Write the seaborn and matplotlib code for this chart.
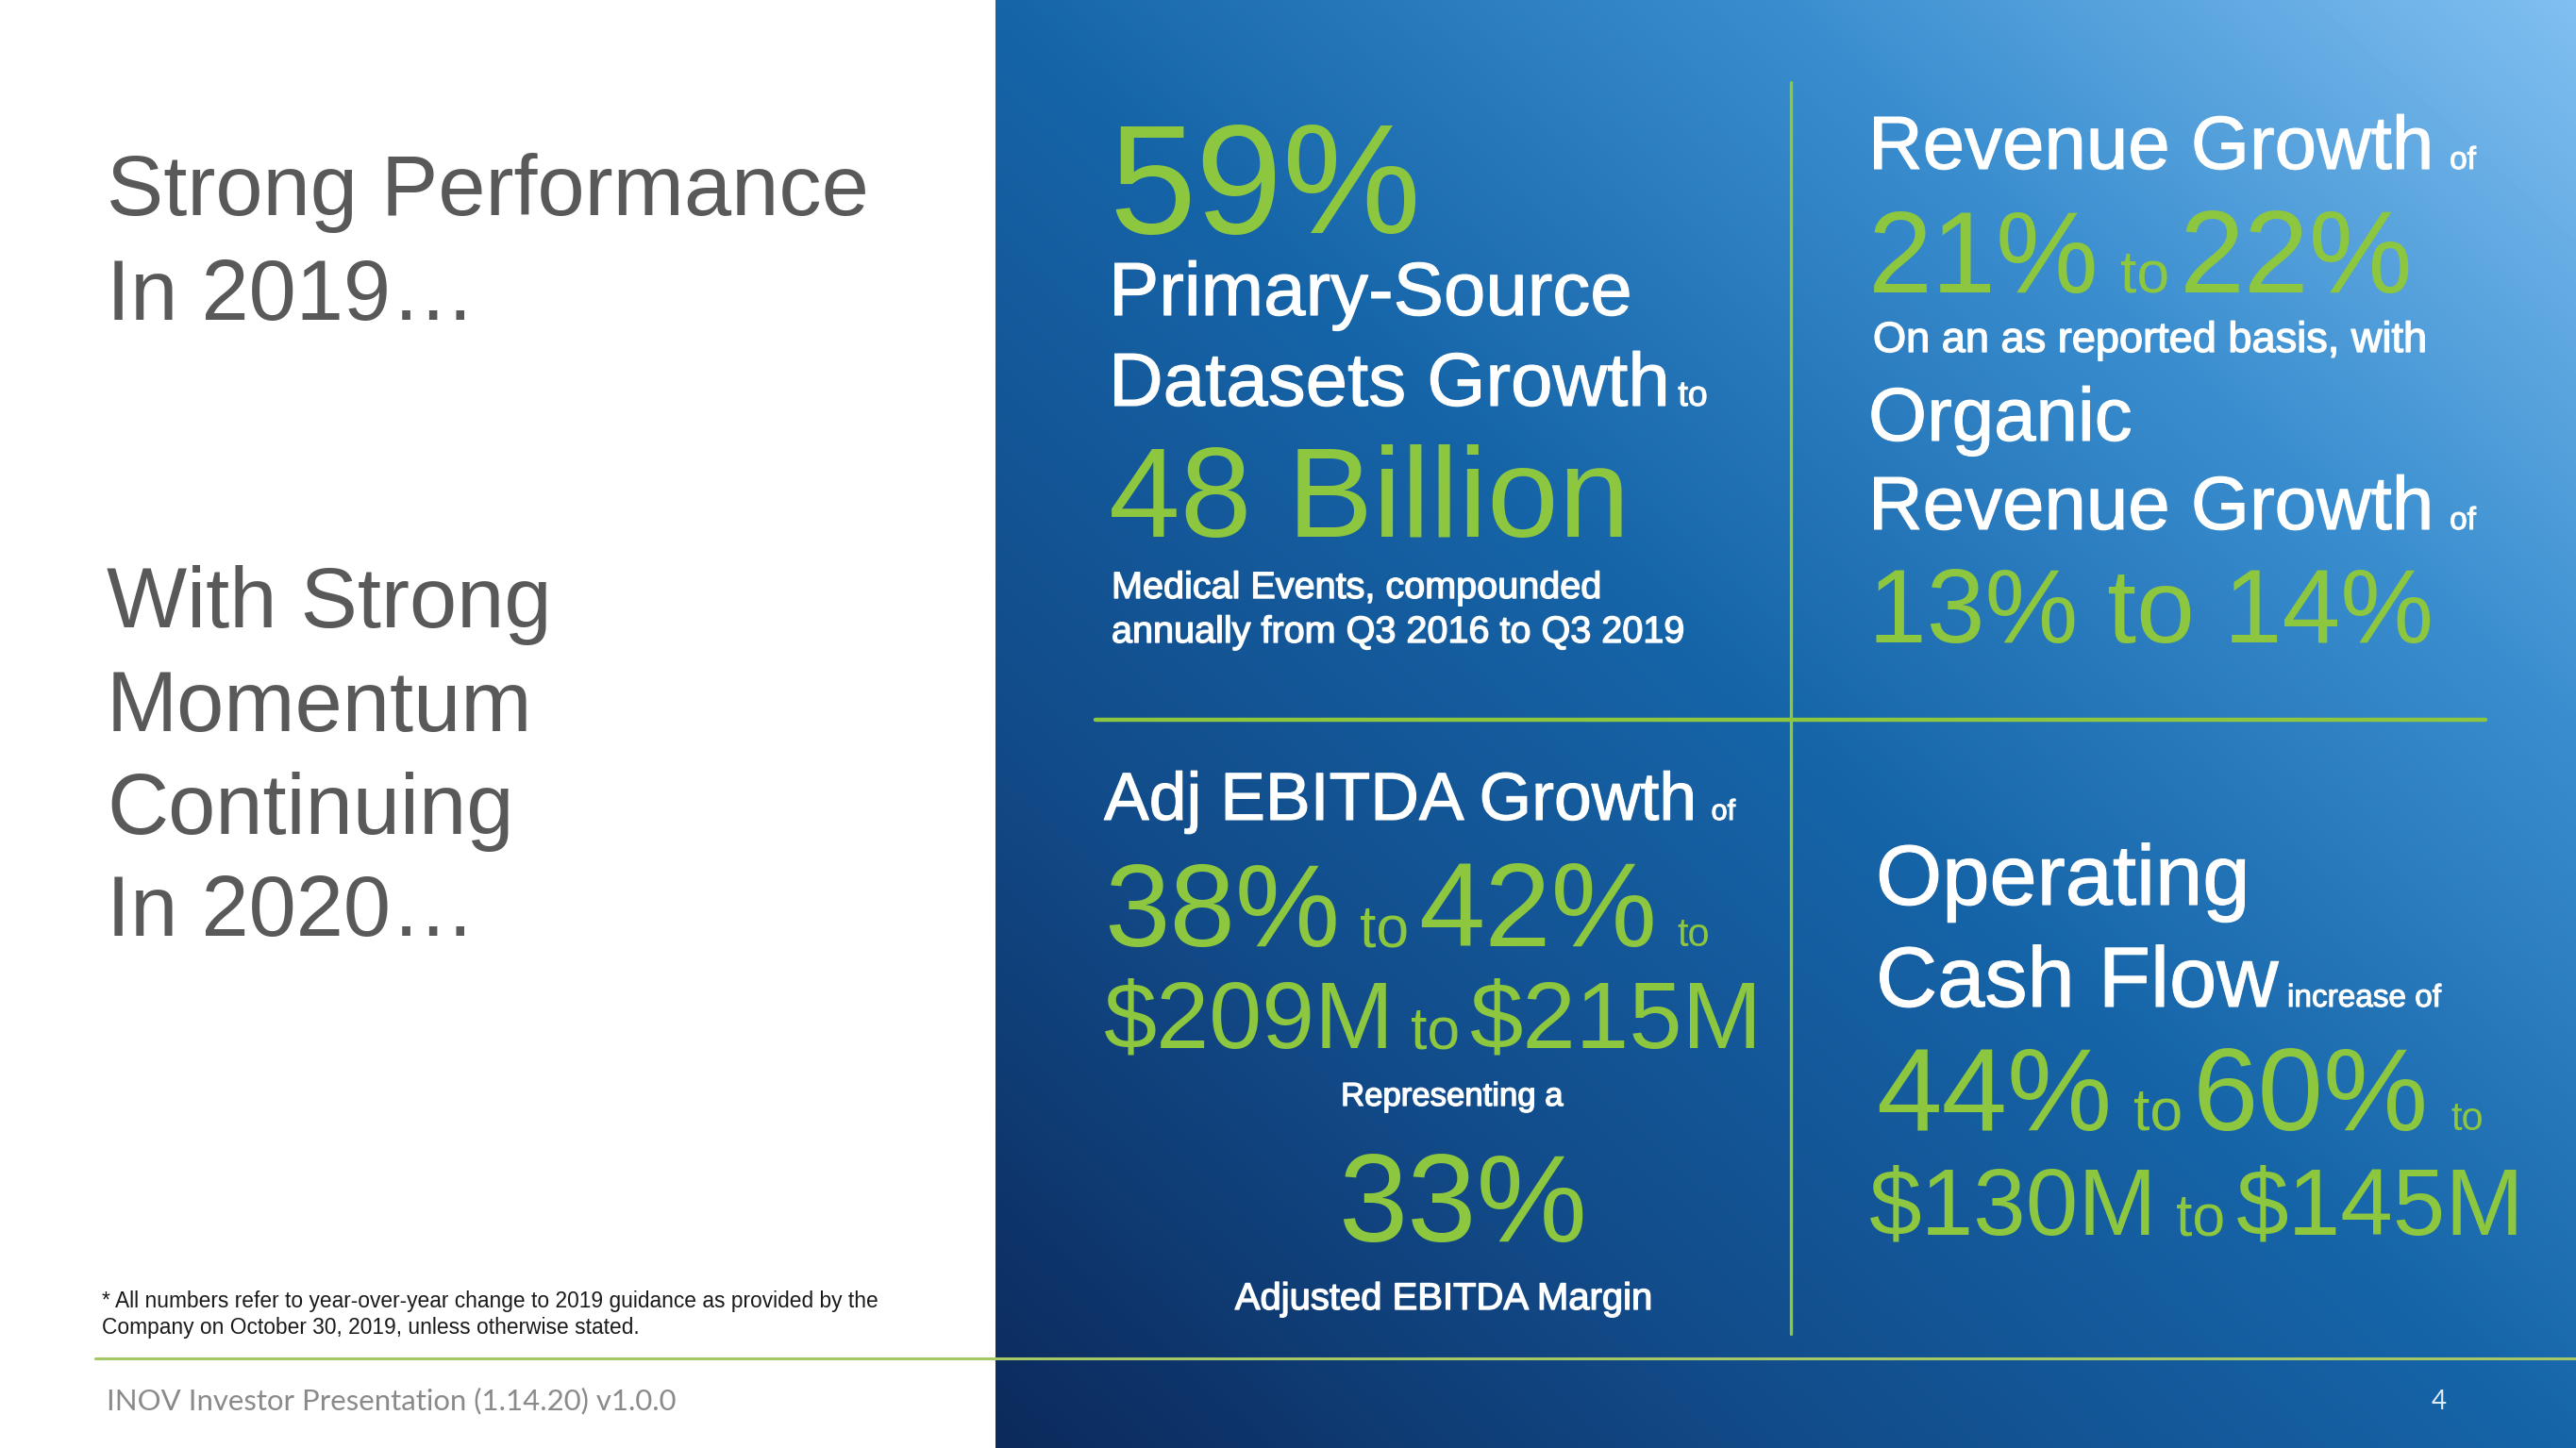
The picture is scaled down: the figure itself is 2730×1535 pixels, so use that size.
import numpy as np
import matplotlib
matplotlib.use("Agg")
import matplotlib.pyplot as plt
import matplotlib.patheffects as pe
import seaborn as sns
from matplotlib.colors import LinearSegmentedColormap

# =====================================================
# DATA (2019 guidance figures)
# =====================================================

datasets_growth_pct = 59
datasets_total_bn = 48
revenue_growth_pct = [21, 22]
organic_growth_pct = [13, 14]
ebitda_growth_pct = [38, 42]
ebitda_usd_m = [209, 215]
ebitda_margin_pct = 33
cash_flow_growth_pct = [44, 60]
cash_flow_usd_m = [130, 145]

left_titles = ["Strong Performance", "In 2019\u2026",
               "With Strong", "Momentum", "Continuing", "In 2020\u2026"]
footnote = ["* All numbers refer to year-over-year change to 2019 guidance as provided by the",
            "Company on October 30, 2019, unless otherwise stated."]
footer = "INOV Investor Presentation (1.14.20) v1.0.0"
page_no = "4"

# =====================================================
# STYLE
# =====================================================

sns.set_theme(style="white")
plt.rcParams["font.family"] = ["Liberation Sans", "DejaVu Sans"]

GREEN = "#8DC63F"
WHITE = "#FFFFFF"
GREY = "#595959"

W, H = 2730, 1535
fig = plt.figure(figsize=(27.3, 15.35), dpi=100)
ax = fig.add_axes([0, 0, 1, 1])
ax.set_xlim(0, W)
ax.set_ylim(H, 0)
ax.axis("off")
fig.patch.set_facecolor("white")

# blue gradient panel
x_panel = 1055
cmap = LinearSegmentedColormap.from_list(
    "panel",
    [(0.0, "#0c2a5c"), (0.25, "#124b89"), (0.5, "#1665a9"),
     (0.75, "#3a8ecf"), (1.0, "#80bff1")]
)
u = np.linspace(0, 1, 400)
v = np.linspace(1, 0, 400)
U, V = np.meshgrid(u, v)
ax.imshow((U + V) / 2, extent=[x_panel, W, H, 0], cmap=cmap,
          aspect="auto", vmin=0, vmax=1, zorder=0, interpolation="bilinear")

# divider lines
ax.plot([1898, 1898], [87, 1414], color=GREEN, lw=2.4, zorder=2)
ax.plot([1161, 2634], [763, 763], color=GREEN, lw=3.2, zorder=2)
ax.plot([101, W], [1440, 1440], color="#a3c865", lw=2.2, zorder=2)

fig.canvas.draw()
renderer = fig.canvas.get_renderer()


def heavy(color, lw):
    return [pe.withStroke(linewidth=lw, foreground=color)]


def run(x, y, parts, gap=0.22):
    # place text pieces one after another on a shared baseline
    for s, size, color in parts:
        t = ax.text(x, y, s, fontsize=size, color=color, va="baseline",
                    ha="left", zorder=3)
        if color == WHITE:
            t.set_path_effects(heavy(WHITE, 0.8))
        w = t.get_window_extent(renderer).width
        x += w + size * gap


def centered(x, y, s, size, color, stroke=0):
    t = ax.text(x, y, s, fontsize=size, color=color, va="baseline",
                ha="center", zorder=3)
    if stroke:
        t.set_path_effects(heavy(color, stroke))


def note(x, y, s, size):
    ax.text(x, y, s, fontsize=size, color=WHITE, va="baseline", ha="left",
            zorder=3, path_effects=heavy(WHITE, 1.0))


# =====================================================
# LEFT SIDE
# =====================================================

for label, yb in zip(left_titles, [228, 339, 665, 775, 884, 992]):
    ax.text(113, yb, label, fontsize=65, color=GREY, va="baseline")

for line, yb in zip(footnote, [1386, 1414]):
    ax.text(108, yb, line, fontsize=16.4, color="#1a1a1a", va="baseline")

ax.text(113, 1494, footer, fontsize=22.4, color="#8a8a8a", va="baseline",
        family=["Lato", "DejaVu Sans"])
ax.text(2585, 1494, page_no, fontsize=20, color="#e0ecf7", va="baseline",
        ha="center", family=["Lato", "DejaVu Sans"])

# =====================================================
# QUADRANT 1 - datasets
# =====================================================

q1 = 1175
run(q1, 247, [(f"{datasets_growth_pct}%", 119, GREEN)])
run(q1, 334, [("Primary-Source", 57.5, WHITE)])
run(q1, 430, [("Datasets Growth", 57.5, WHITE), ("to", 27, WHITE)], gap=0.15)
run(q1, 569, [(f"{datasets_total_bn} Billion", 98, GREEN)])
note(q1 + 3, 634, "Medical Events, compounded", 28.5)
note(q1 + 3, 681, "annually from Q3 2016 to Q3 2019", 28.5)

# =====================================================
# QUADRANT 2 - revenue
# =====================================================

q2 = 1980
run(q2, 179, [("Revenue Growth", 57.5, WHITE), ("of", 24, WHITE)], gap=0.3)
run(q2, 310, [(f"{revenue_growth_pct[0]}%", 88, GREEN), ("to", 45, GREEN),
              (f"{revenue_growth_pct[1]}%", 89, GREEN)], gap=0.25)
note(q2 + 5, 373, "On an as reported basis, with", 32.5)
run(q2, 467, [("Organic", 57.5, WHITE)])
run(q2, 561, [("Revenue Growth", 57.5, WHITE), ("of", 24, WHITE)], gap=0.3)
run(q2, 681, [(f"{organic_growth_pct[0]}% to {organic_growth_pct[1]}%", 80, GREEN)])

# =====================================================
# QUADRANT 3 - adj EBITDA
# =====================================================

q3 = 1170
run(q3, 869, [("Adj EBITDA Growth", 51.5, WHITE), ("of", 22, WHITE)], gap=0.3)
run(q3, 1003, [(f"{ebitda_growth_pct[0]}%", 90, GREEN), ("to", 45, GREEN),
               (f"{ebitda_growth_pct[1]}%", 91, GREEN), ("to", 30, GREEN)],
    gap=0.23)
run(q3, 1111, [(f"${ebitda_usd_m[0]}M", 72.5, GREEN), ("to", 45, GREEN),
               (f"${ebitda_usd_m[1]}M", 73, GREEN)], gap=0.24)
centered(1539, 1172, "Representing a", 25, WHITE, 1.0)
centered(1550, 1316, f"{ebitda_margin_pct}%", 95, GREEN)
centered(1530, 1388, "Adjusted EBITDA Margin", 28.8, WHITE, 1.0)

# =====================================================
# QUADRANT 4 - operating cash flow
# =====================================================

q4 = 1988
run(q4, 959, [("Operating", 65, WHITE)])
run(q4, 1067, [("Cash Flow", 65, WHITE), ("increase of", 24, WHITE)], gap=0.15)
run(q4, 1198, [(f"{cash_flow_growth_pct[0]}%", 90, GREEN), ("to", 45, GREEN),
               (f"{cash_flow_growth_pct[1]}%", 90, GREEN), ("to", 30, GREEN)],
    gap=0.25)
run(q4 - 7, 1309, [(f"${cash_flow_usd_m[0]}M", 72, GREEN), ("to", 45, GREEN),
                   (f"${cash_flow_usd_m[1]}M", 72, GREEN)], gap=0.27)

fig.savefig("out.png", dpi=100, facecolor="white")
